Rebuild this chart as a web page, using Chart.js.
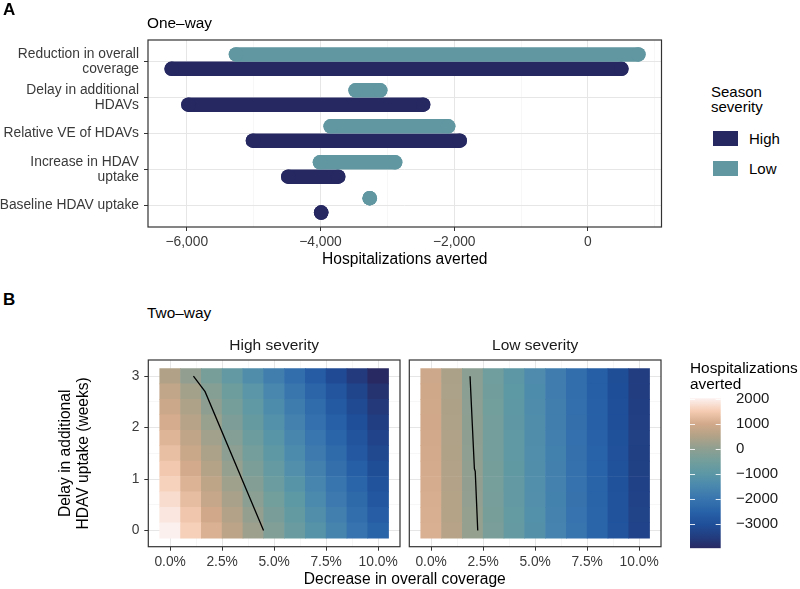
<!DOCTYPE html>
<html>
<head>
<meta charset="utf-8">
<script src="https://cdn.jsdelivr.net/npm/chart.js@4.4.1/dist/chart.umd.min.js"></script>
<style>
  body { margin: 0; background: #fff; font-family: "Liberation Sans", Arial, Helvetica, sans-serif; }
  #wrap { position: relative; width: 800px; height: 589px; overflow: hidden; background: #fff; }
  canvas { position: absolute; }
  .txt { position: absolute; white-space: nowrap; color: #000; line-height: 1; }
  .tag { font-weight: bold; font-size: 17px; }
  .ttl { font-size: 15.4px; }
  .key { position: absolute; width: 24.4px; height: 14.7px; }
</style>
</head>
<body>
<div id="wrap">
  <canvas id="oneway" width="680" height="275" style="left:0;top:0"></canvas>
  <canvas id="twowayHigh" width="410" height="259" style="left:0;top:330px"></canvas>
  <canvas id="twowayLow" width="275" height="259" style="left:400px;top:330px"></canvas>
  <canvas id="colorbar" width="120" height="190" style="left:680px;top:380px"></canvas>

  <div class="txt tag" style="left:3px;top:1px">A</div>
  <div class="txt ttl" style="left:147px;top:15px">One–way</div>
  <div class="txt tag" style="left:3px;top:290.5px">B</div>
  <div class="txt ttl" style="left:147px;top:305px">Two–way</div>

  <div class="txt" style="left:711px;top:83.7px;font-size:15px;line-height:15.6px">Season<br>severity</div>
  <div class="key" id="keyHigh" style="left:713.3px;top:131px"></div>
  <div class="txt" style="left:749px;top:130.7px;font-size:15px;line-height:15px">High</div>
  <div class="key" id="keyLow" style="left:713.3px;top:161px"></div>
  <div class="txt" style="left:749px;top:160.7px;font-size:15px;line-height:15px">Low</div>

  <div class="txt" style="left:690px;top:360px;font-size:15.4px;line-height:15.5px">Hospitalizations<br>averted</div>
  <div class="txt" style="left:404.8px;top:570.8px;font-size:15.6px;transform:translateX(-50%)">Decrease in overall coverage</div>
</div>

<script>
// Panel A, one-way sensitivity: start and end of each range (hospitalizations averted)
const rowLabels = [
  ["Reduction in overall", "coverage"],
  ["Delay in additional", "HDAVs"],
  "Relative VE of HDAVs",
  ["Increase in HDAV", "uptake"],
  "Baseline HDAV uptake",
];
const highFrom = [-6226, -5976, -5010, -4482, -3990];
const highTo = [500, -2465, -1918, -3736, -3990];
const lowFrom = [-5264, -3475, -3848, -4008, -3264];
const lowTo = [754, -3107, -2091, -2884, -3264];
const onewayTicks = [-6000, -4000, -2000, 0];
const onewayMinor = [-5000, -3000, -1000, 1000];

// Panel B, two-way: rows = delay (weeks), columns = decrease in coverage (%)
const coverageLevels = [0, 1, 2, 3, 4, 5, 6, 7, 8, 9, 10];
const delayLevels = [0, 0.3, 0.6, 0.9, 1.2, 1.5, 1.8, 2.1, 2.4, 2.7, 3.0];
const highGrid = [
  [2020, 1570, 1120, 670, 220, -230, -680, -1130, -1580, -2030, -2480],
  [1880, 1430, 980, 530, 80, -370, -820, -1270, -1720, -2170, -2620],
  [1740, 1290, 840, 390, -60, -510, -960, -1410, -1860, -2310, -2760],
  [1600, 1150, 700, 250, -200, -650, -1100, -1550, -2000, -2450, -2900],
  [1460, 1010, 560, 110, -340, -790, -1240, -1690, -2140, -2590, -3040],
  [1320, 870, 420, -30, -480, -930, -1380, -1830, -2280, -2730, -3180],
  [1180, 730, 280, -170, -620, -1070, -1520, -1970, -2420, -2870, -3320],
  [1040, 590, 140, -310, -760, -1210, -1660, -2110, -2560, -3010, -3460],
  [900, 450, 0, -450, -900, -1350, -1800, -2250, -2700, -3150, -3600],
  [760, 310, -140, -590, -1040, -1490, -1940, -2390, -2840, -3290, -3740],
  [500, 50, -400, -850, -1300, -1750, -2200, -2650, -3100, -3550, -3960],
];
const lowGrid = [
  [1110, 585, 115, -365, -790, -1195, -1600, -2005, -2415, -2865, -3320],
  [1090, 565, 95, -385, -810, -1215, -1620, -2025, -2435, -2885, -3340],
  [1070, 545, 75, -405, -830, -1235, -1640, -2045, -2455, -2905, -3360],
  [1050, 525, 55, -425, -850, -1255, -1660, -2065, -2475, -2925, -3380],
  [1035, 510, 40, -440, -865, -1270, -1675, -2080, -2490, -2940, -3395],
  [1015, 490, 20, -460, -885, -1290, -1695, -2100, -2510, -2960, -3415],
  [1000, 475, 5, -475, -900, -1305, -1710, -2115, -2525, -2975, -3430],
  [985, 460, -10, -490, -915, -1320, -1725, -2130, -2540, -2990, -3445],
  [965, 440, -30, -510, -935, -1340, -1745, -2150, -2560, -3010, -3465],
  [950, 425, -45, -525, -950, -1355, -1760, -2165, -2575, -3025, -3480],
  [935, 410, -60, -540, -965, -1370, -1775, -2180, -2590, -3040, -3495],
];
// zero contour (break-even line)
const highContourX = [4.49, 1.68, 1.12];
const highContourY = [0, 2.7, 3.0];
const lowContourX = [2.24, 2.12, 2.08, 1.87];
const lowContourY = [0, 1.15, 1.2, 3.0];

const coverageTicks = [0, 2.5, 5, 7.5, 10];
const coverageMinor = [1.25, 3.75, 6.25, 8.75];
const delayTicks = [0, 1, 2, 3];
const delayMinor = [0.5, 1.5, 2.5];
const colorbarTicks = [2000, 1000, 0, -1000, -2000, -3000];

const HIGH_COLOR = "#262862";
const LOW_COLOR = "#6097a1";
const palette = [
  [2030, "#fcf1f0"],
  [1500, "#f5cbb1"],
  [1000, "#d2a98a"],
  [500, "#b1a287"],
  [0, "#8e9f91"],
  [-500, "#729e9c"],
  [-1000, "#5b97a6"],
  [-1500, "#4987ae"],
  [-2000, "#3874ae"],
  [-2500, "#2862a8"],
  [-3000, "#1f4f99"],
  [-3500, "#223d80"],
  [-3960, "#282962"],
];

Chart.defaults.font.family = '"Liberation Sans", Arial, Helvetica, sans-serif';
Chart.defaults.color = "#3a3a3a";
Chart.defaults.animation = false;
Chart.defaults.events = [];
Chart.defaults.responsive = false;
Chart.defaults.plugins.legend.display = false;
Chart.defaults.plugins.tooltip.enabled = false;

document.getElementById("keyHigh").style.background = HIGH_COLOR;
document.getElementById("keyLow").style.background = LOW_COLOR;

function hexToRgb(h) {
  return [1, 3, 5].map((i) => parseInt(h.slice(i, i + 2), 16));
}

function colorFor(v) {
  if (v >= palette[0][0]) return palette[0][1];
  for (let i = 1; i < palette.length; i++) {
    const [v1, c1] = palette[i - 1];
    const [v2, c2] = palette[i];
    if (v >= v2) {
      const t = (v1 - v) / (v1 - v2);
      const a = hexToRgb(c1);
      const b = hexToRgb(c2);
      const rgb = a.map((x, k) => Math.round(x + (b[k] - x) * t));
      return `rgb(${rgb.join(",")})`;
    }
  }
  return palette[palette.length - 1][1];
}

function tickSetter(major, minor) {
  return (scale) => {
    const list = major
      .map((v) => ({ value: v, minor: false }))
      .concat(minor.map((v) => ({ value: v, minor: true })));
    list.sort((a, b) => a.value - b.value);
    scale.ticks = list;
  };
}

const isMinor = (c) => c.tick && c.tick.minor;
const gridStyle = {
  color: (c) => (isMinor(c) ? "#f1f1f1" : "#e6e6e6"),
  lineWidth: (c) => (isMinor(c) ? 0.6 : 1),
  tickColor: (c) => (isMinor(c) ? "rgba(0,0,0,0)" : "#333"),
  tickLength: 4,
  tickWidth: 1,
};

const panelFrame = {
  id: "panelFrame",
  afterDatasetsDraw(chart, args, opts) {
    const { ctx, chartArea: a } = chart;
    ctx.save();
    ctx.strokeStyle = "#333";
    ctx.lineWidth = 1.2;
    ctx.strokeRect(a.left, a.top, a.right - a.left, a.bottom - a.top);
    if (opts.label) {
      ctx.fillStyle = "#1a1a1a";
      ctx.font = '15.5px "Liberation Sans", Arial, sans-serif';
      ctx.textAlign = "center";
      ctx.textBaseline = "alphabetic";
      ctx.fillText(opts.label, (a.left + a.right) / 2, a.top - 10.5);
    }
    ctx.restore();
  },
};

// ---------- Panel A ----------
function segment(from, to, y, color) {
  return {
    data: [
      { x: from, y: y },
      { x: to, y: y },
    ],
    showLine: true,
    borderColor: color,
    borderWidth: 14.5,
    borderCapStyle: "round",
    pointRadius: 7.25,
    pointBackgroundColor: color,
    pointBorderWidth: 0,
  };
}

const onewayDatasets = [];
rowLabels.forEach((_, i) => {
  onewayDatasets.push(segment(lowFrom[i], lowTo[i], i - 0.2, LOW_COLOR));
  onewayDatasets.push(segment(highFrom[i], highTo[i], i + 0.2, HIGH_COLOR));
});

new Chart(document.getElementById("oneway"), {
  type: "scatter",
  data: { datasets: onewayDatasets },
  plugins: [panelFrame],
  options: {
    layout: { padding: { top: 40, right: 18.5, left: 0, bottom: 0 } },
    scales: {
      x: {
        type: "linear",
        min: -6580,
        max: 1100,
        afterBuildTicks: tickSetter(onewayTicks, onewayMinor),
        afterFit: (s) => { s.height = 48; },
        grid: gridStyle,
        border: { display: false },
        ticks: {
          autoSkip: false,
          maxRotation: 0,
          padding: 3,
          font: { size: 13.8 },
          callback: (v, i, ticks) =>
            ticks[i].minor ? "" : (v < 0 ? "\u2212" : "") + Math.abs(v).toLocaleString("en-US"),
        },
        title: {
          display: true,
          text: "Hospitalizations averted",
          color: "#000",
          font: { size: 15.6 },
          padding: { top: 0, bottom: 6 },
        },
      },
      y: {
        type: "linear",
        reverse: true,
        min: -0.6,
        max: 4.6,
        afterBuildTicks: tickSetter([0, 1, 2, 3, 4], []),
        afterFit: (s) => { s.width = 148; },
        grid: gridStyle,
        border: { display: false },
        ticks: {
          autoSkip: false,
          padding: 5,
          font: { size: 13.8, lineHeight: 1.07 },
          callback: (v) => rowLabels[v],
        },
      },
    },
  },
});

// ---------- Panel B ----------
function heatmap(canvasId, grid, contourX, contourY, label, withYAxis, padding) {
  const half = (delayLevels[1] - delayLevels[0]) / 2;
  const datasets = delayLevels.map((d, r) => ({
    type: "bar",
    data: coverageLevels.map((c) => ({ x: c, y: [d - half, d + half] })),
    backgroundColor: grid[r].map(colorFor),
    borderWidth: 0,
    grouped: false,
    barPercentage: 1,
    categoryPercentage: 1,
    order: 1,
  }));
  datasets.push({
    type: "line",
    data: contourX.map((x, i) => ({ x: x, y: contourY[i] })),
    borderColor: "#000",
    borderWidth: 1.3,
    pointRadius: 0,
    fill: false,
    order: 0,
  });

  new Chart(document.getElementById(canvasId), {
    type: "bar",
    data: { datasets },
    plugins: [panelFrame],
    options: {
      layout: { padding },
      plugins: { panelFrame: { label } },
      scales: {
        x: {
          type: "linear",
          offset: false,
          min: -1.05,
          max: 11.05,
          afterBuildTicks: tickSetter(coverageTicks, coverageMinor),
          afterFit: (s) => { s.height = 42.3; },
          grid: Object.assign({}, gridStyle, { offset: false }),
          border: { display: false },
          ticks: {
            autoSkip: false,
            maxRotation: 0,
            padding: 3.7,
            font: { size: 13.8 },
            callback: (v, i, ticks) => (ticks[i].minor ? "" : v.toFixed(1) + "%"),
          },
        },
        y: {
          type: "linear",
          min: -0.315,
          max: 3.315,
          afterBuildTicks: tickSetter(delayTicks, delayMinor),
          afterFit: (s) => { s.width = withYAxis ? 148.3 : 0; },
          grid: withYAxis ? gridStyle : Object.assign({}, gridStyle, { drawTicks: false }),
          border: { display: false },
          ticks: {
            display: withYAxis,
            autoSkip: false,
            padding: 5,
            font: { size: 13.8 },
            callback: (v, i, ticks) => (ticks[i].minor ? "" : String(v)),
          },
          title: {
            display: withYAxis,
            text: ["Delay in additional", "HDAV uptake (weeks)"],
            color: "#000",
            font: { size: 15.6, lineHeight: 1.12 },
            padding: { top: 57.3, bottom: 0 },
          },
        },
      },
    },
  });
}

heatmap("twowayHigh", highGrid, highContourX, highContourY, "High severity", true,
  { top: 30, right: 10, left: 0, bottom: 0 });
heatmap("twowayLow", lowGrid, lowContourX, lowContourY, "Low severity", false,
  { top: 30, right: 14, left: 9.3, bottom: 0 });

// ---------- Colour bar ----------
const allValues = highGrid.flat().concat(lowGrid.flat());
const vMin = Math.min(...allValues);
const vMax = Math.max(...allValues);

const colorbarTicksPlugin = {
  id: "colorbarTicks",
  afterDatasetsDraw(chart) {
    const { ctx, chartArea: a } = chart;
    const y = chart.scales.y;
    ctx.save();
    ctx.strokeStyle = "rgba(255,255,255,0.85)";
    ctx.lineWidth = 1;
    colorbarTicks.forEach((v) => {
      const py = Math.round(y.getPixelForValue(v)) + 0.5;
      ctx.beginPath();
      ctx.moveTo(a.left, py);
      ctx.lineTo(a.left + 5, py);
      ctx.moveTo(a.right - 5, py);
      ctx.lineTo(a.right, py);
      ctx.stroke();
    });
    ctx.restore();
  },
};

new Chart(document.getElementById("colorbar"), {
  type: "bar",
  data: {
    labels: [""],
    datasets: [
      {
        data: [[vMin, vMax]],
        borderWidth: 0,
        barPercentage: 1,
        categoryPercentage: 1,
        backgroundColor: (c) => {
          const chart = c.chart;
          if (!chart.chartArea) return "transparent";
          const ys = chart.scales.y;
          const g = chart.ctx.createLinearGradient(0, ys.getPixelForValue(vMax), 0, ys.getPixelForValue(vMin));
          palette.forEach(([v, col]) => {
            const t = (vMax - v) / (vMax - vMin);
            g.addColorStop(Math.min(1, Math.max(0, t)), col);
          });
          return g;
        },
      },
    ],
  },
  plugins: [colorbarTicksPlugin],
  options: {
    layout: { padding: { left: 10, top: 18.3, bottom: 21.7, right: 0 } },
    scales: {
      x: { display: false },
      y: {
        position: "right",
        min: vMin,
        max: vMax,
        afterBuildTicks: tickSetter(colorbarTicks, []),
        afterFit: (s) => { s.width = 79.3; },
        grid: { display: false },
        border: { display: false },
        ticks: {
          autoSkip: false,
          padding: 7.3,
          color: "#1a1a1a",
          font: { size: 15 },
          callback: (v) => (v < 0 ? "\u2212" + Math.abs(v) : String(v)),
        },
      },
    },
  },
});
</script>
</body>
</html>
